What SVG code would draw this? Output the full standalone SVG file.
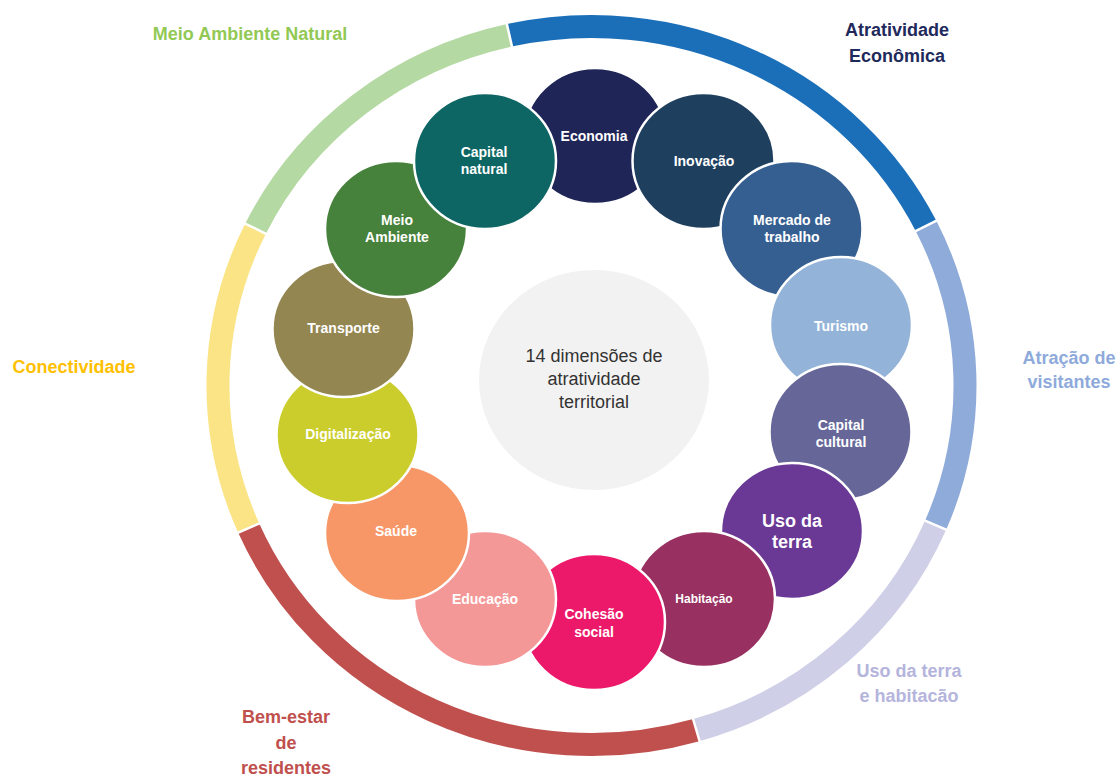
<svg xmlns="http://www.w3.org/2000/svg" width="1118" height="776" viewBox="0 0 1118 776">
<style>
.seg{fill:none;stroke-width:23;stroke-linecap:butt}
.sep{stroke:#fff;stroke-width:2.5}
.cat{font-family:"Liberation Sans",Arial,sans-serif;font-weight:bold;font-size:18px;text-anchor:middle}
.node ellipse{stroke:#fff;stroke-width:2.5}
.node text{font-family:"Liberation Sans",Arial,sans-serif;font-weight:bold;font-size:14px;fill:#fff;text-anchor:middle}
.center text{font-family:"Liberation Sans",Arial,sans-serif;font-size:18px;fill:#333;text-anchor:middle}
</style>
<rect width="1118" height="776" fill="#fff"/>
<g id="ring">
  <g id="cat-conectividade">
    <path class="seg" stroke="#FAE485" d="M248.7 528.1 A373.5 359 0 0 1 255.5 228.7"/>
    <text class="cat" fill="#FFC000" x="74" y="373">Conectividade</text>
  </g>
  <g id="cat-meio-ambiente-natural">
    <path class="seg" stroke="#B5D9A3" d="M255.5 228.7 A373.5 359 0 0 1 509.4 35.3"/>
    <text class="cat" fill="#92C955" x="250" y="40">Meio Ambiente Natural</text>
  </g>
  <g id="cat-atratividade-economica">
    <path class="seg" stroke="#1B6FB8" d="M509.4 35.3 A373.5 359 0 0 1 926 225.9"/>
    <text class="cat" fill="#1F2A5C" x="897" y="36">Atratividade</text>
    <text class="cat" fill="#1F2A5C" x="897" y="62">Econômica</text>
  </g>
  <g id="cat-atracao-visitantes">
    <path class="seg" stroke="#8FABD9" d="M926 225.9 A373.5 359 0 0 1 935.6 525.2"/>
    <text class="cat" fill="#8EAADB" x="1069" y="364">Atração de</text>
    <text class="cat" fill="#8EAADB" x="1069" y="388">visitantes</text>
  </g>
  <g id="cat-uso-terra-habitacao">
    <path class="seg" stroke="#CFCFE8" d="M935.6 525.2 A373.5 359 0 0 1 696.3 730.1"/>
    <text class="cat" fill="#B4B4DC" x="909" y="677">Uso da terra</text>
    <text class="cat" fill="#B4B4DC" x="909" y="702">e habitacão</text>
  </g>
  <g id="cat-bem-estar">
    <path class="seg" stroke="#C0504D" d="M696.3 730.1 A373.5 359 0 0 1 248.7 528.1"/>
    <text class="cat" fill="#C0504D" x="286" y="723">Bem-estar</text>
    <text class="cat" fill="#C0504D" x="286" y="749">de</text>
    <text class="cat" fill="#C0504D" x="286" y="774">residentes</text>
  </g>
  <g id="separators">
    <line class="sep" x1="261.5" y1="522.5" x2="235.9" y2="533.6"/>
    <line class="sep" x1="268.1" y1="234.8" x2="242.9" y2="222.6"/>
    <line class="sep" x1="512.5" y1="48.9" x2="506.3" y2="21.6"/>
    <line class="sep" x1="913.5" y1="232.1" x2="938.6" y2="219.7"/>
    <line class="sep" x1="922.7" y1="519.7" x2="948.5" y2="530.6"/>
    <line class="sep" x1="692.4" y1="716.6" x2="700.3" y2="743.5"/>
  </g>
</g>
<g id="center" class="center">
  <ellipse cx="594" cy="380" rx="115" ry="110" fill="#F2F2F2"/>
  <text x="594" y="362">14 dimensões de</text>
  <text x="594" y="385">atratividade</text>
  <text x="594" y="408">territorial</text>
</g>
<g id="economia" class="node">
  <ellipse cx="595" cy="136" rx="71" ry="68" fill="#1F2557"/>
  <text x="594" y="141">Economia</text>
</g>
<g id="inovacao" class="node">
  <ellipse cx="703.5" cy="161" rx="71" ry="68" fill="#1F3F5F"/>
  <text x="704" y="166">Inovação</text>
</g>
<g id="mercado-trabalho" class="node">
  <ellipse cx="791.5" cy="229" rx="71" ry="68" fill="#355E91"/>
  <text x="792" y="225">Mercado de</text>
  <text x="792" y="242">trabalho</text>
</g>
<g id="turismo" class="node">
  <ellipse cx="841" cy="325" rx="71" ry="68" fill="#93B3D8"/>
  <text x="841" y="331">Turismo</text>
</g>
<g id="capital-cultural" class="node">
  <ellipse cx="840.5" cy="432" rx="71" ry="68" fill="#666699"/>
  <text x="841" y="430">Capital</text>
  <text x="841" y="447">cultural</text>
</g>
<g id="uso-terra" class="node">
  <ellipse cx="792" cy="531" rx="71" ry="68" fill="#6A3996"/>
  <text x="792" y="527" style="font-size:18px">Uso da</text>
  <text x="792" y="548" style="font-size:18px">terra</text>
</g>
<g id="habitacao" class="node">
  <ellipse cx="704" cy="599" rx="71" ry="68" fill="#983061"/>
  <text x="704" y="603" style="font-size:12px">Habitação</text>
</g>
<g id="cohesao-social" class="node">
  <ellipse cx="594" cy="622" rx="71" ry="68" fill="#EC1869"/>
  <text x="594" y="619">Cohesão</text>
  <text x="594" y="637">social</text>
</g>
<g id="educacao" class="node">
  <ellipse cx="485" cy="599" rx="71" ry="68" fill="#F49797"/>
  <text x="485" y="604">Educação</text>
</g>
<g id="saude" class="node">
  <ellipse cx="397" cy="533" rx="72" ry="68" fill="#F79767"/>
  <text x="396" y="536">Saúde</text>
</g>
<g id="digitalizacao" class="node">
  <ellipse cx="347.5" cy="435" rx="71" ry="68" fill="#CBCD2D"/>
  <text x="348" y="439">Digitalização</text>
</g>
<g id="transporte" class="node">
  <ellipse cx="343.5" cy="329" rx="71" ry="68" fill="#948651"/>
  <text x="343.5" y="333">Transporte</text>
</g>
<g id="meio-ambiente" class="node">
  <ellipse cx="396" cy="229" rx="71" ry="68" fill="#47823C"/>
  <text x="397" y="225">Meio</text>
  <text x="397" y="242">Ambiente</text>
</g>
<g id="capital-natural" class="node">
  <ellipse cx="485" cy="161" rx="71" ry="68" fill="#0E6664"/>
  <text x="484" y="157">Capital</text>
  <text x="484" y="174">natural</text>
</g>
</svg>
